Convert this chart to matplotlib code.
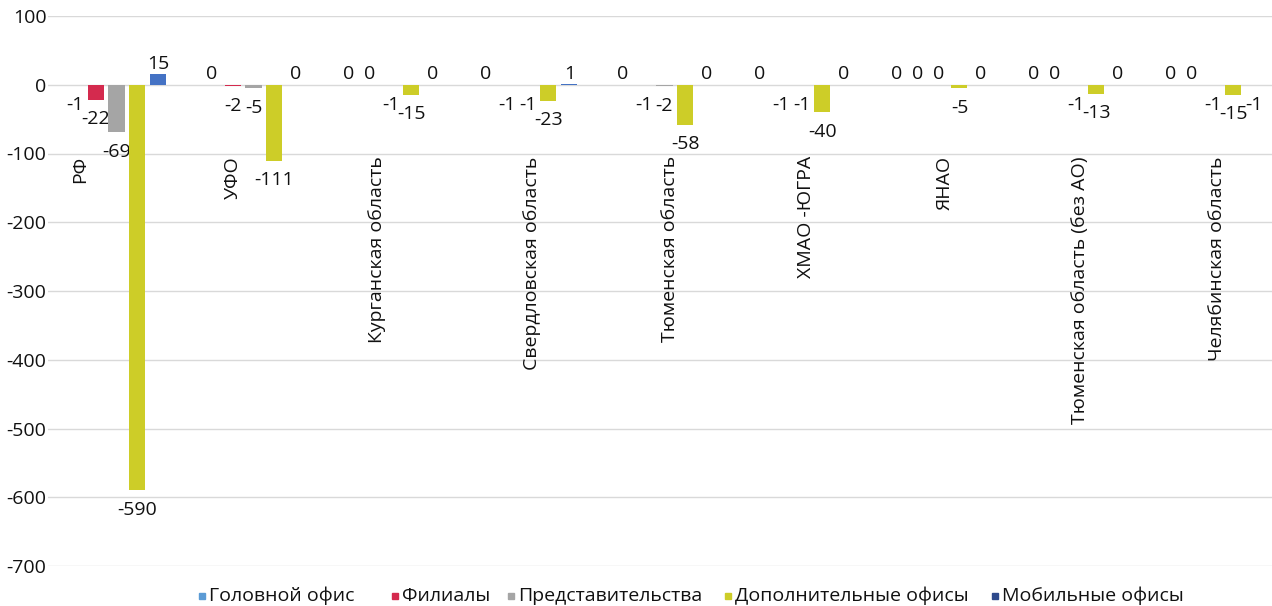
import matplotlib
matplotlib.use("Agg")
import matplotlib.pyplot as plt
from matplotlib.patches import Rectangle
import numpy as np

plt.rcParams['font.family'] = ['Open Sans', 'DejaVu Sans']

categories = ["РФ", "УФО", "Курганская область", "Свердловская область",
              "Тюменская область", "ХМАО -ЮГРА", "ЯНАО",
              "Тюменская область (без АО)", "Челябинская область"]
series_names = ["Головной офис", "Филиалы", "Представительства",
                "Дополнительные офисы", "Мобильные офисы"]
head_office = [-1, 0, 0, 0, 0, 0, 0, 0, 0]
branches = [-22, -2, 0, -1, -1, -1, 0, 0, 0]
representative = [-69, -5, -1, -1, -2, -1, 0, -1, -1]
additional = [-590, -111, -15, -23, -58, -40, -5, -13, -15]
mobile = [15, 0, 0, 1, 0, 0, 0, 0, -1]
yticks = [100, 0, -100, -200, -300, -400, -500, -600, -700]

series = [head_office, branches, representative, additional, mobile]
colors = ["#5B9BD5", "#D42A4E", "#A5A5A5", "#CDCD28", "#4472C4"]
legend_colors = ["#5B9BD5", "#D42A4E", "#A5A5A5", "#CDCD28", "#2E4A8C"]

W, H = 1272, 606
fig = plt.figure(figsize=(W / 100, H / 100), dpi=100)
ax = fig.add_axes([48 / W, 1 - 566 / H, 1233 / W, 550 / H])

FS = 14
x = np.arange(len(categories))
step = 0.153
width = 0.117
for i, (vals, c) in enumerate(zip(series, colors)):
    xs = x + (i - 2) * step
    ax.bar(xs, vals, width=width, color=c, zorder=3)
    for xi, v in zip(xs, vals):
        if v >= 0:
            ax.annotate(f"{v}", (xi, v), xytext=(0, 1), textcoords="offset points",
                        ha="center", va="bottom", fontsize=FS, color="#111111")
        else:
            ax.annotate(f"{v}", (xi, v), xytext=(0, -7.5), textcoords="offset points",
                        ha="center", va="top", fontsize=FS, color="#111111")

label_shift = [-0.266, -0.15, -0.1, 0.033, 0.04, 0.033, 0.047, 0.033, 0.033]
for xi, name, s in zip(x, categories, label_shift):
    ax.text(xi + s, -104, name, rotation=90, ha="center", va="top",
            fontsize=FS, color="#111111")

ax.set_xlim(-0.5, len(categories) - 0.5)
ax.set_ylim(-700, 100)
ax.set_yticks(yticks)
ax.set_yticklabels([str(t) for t in yticks], fontsize=FS, color="#111111")
ax.set_xticks([])
ax.tick_params(axis="y", length=0, pad=1)
ax.yaxis.grid(True, color="#D9D9D9", linewidth=1, zorder=0)
for sp in ax.spines.values():
    sp.set_visible(False)

# legend (manual placement to match the uneven spacing of the original)
legend_x = [202, 395, 511, 728, 995]
ly = 596
for lx, name, c in zip(legend_x, series_names, legend_colors):
    fig.patches.append(Rectangle(((lx - 3) / W, 1 - (ly + 3) / H), 6 / W, 6 / H,
                                 transform=fig.transFigure, color=c))
    fig.text((lx + 7) / W, 1 - ly / H, name, ha="left", va="center",
             fontsize=FS, color="#111111")

fig.savefig("out.png", dpi=100)
